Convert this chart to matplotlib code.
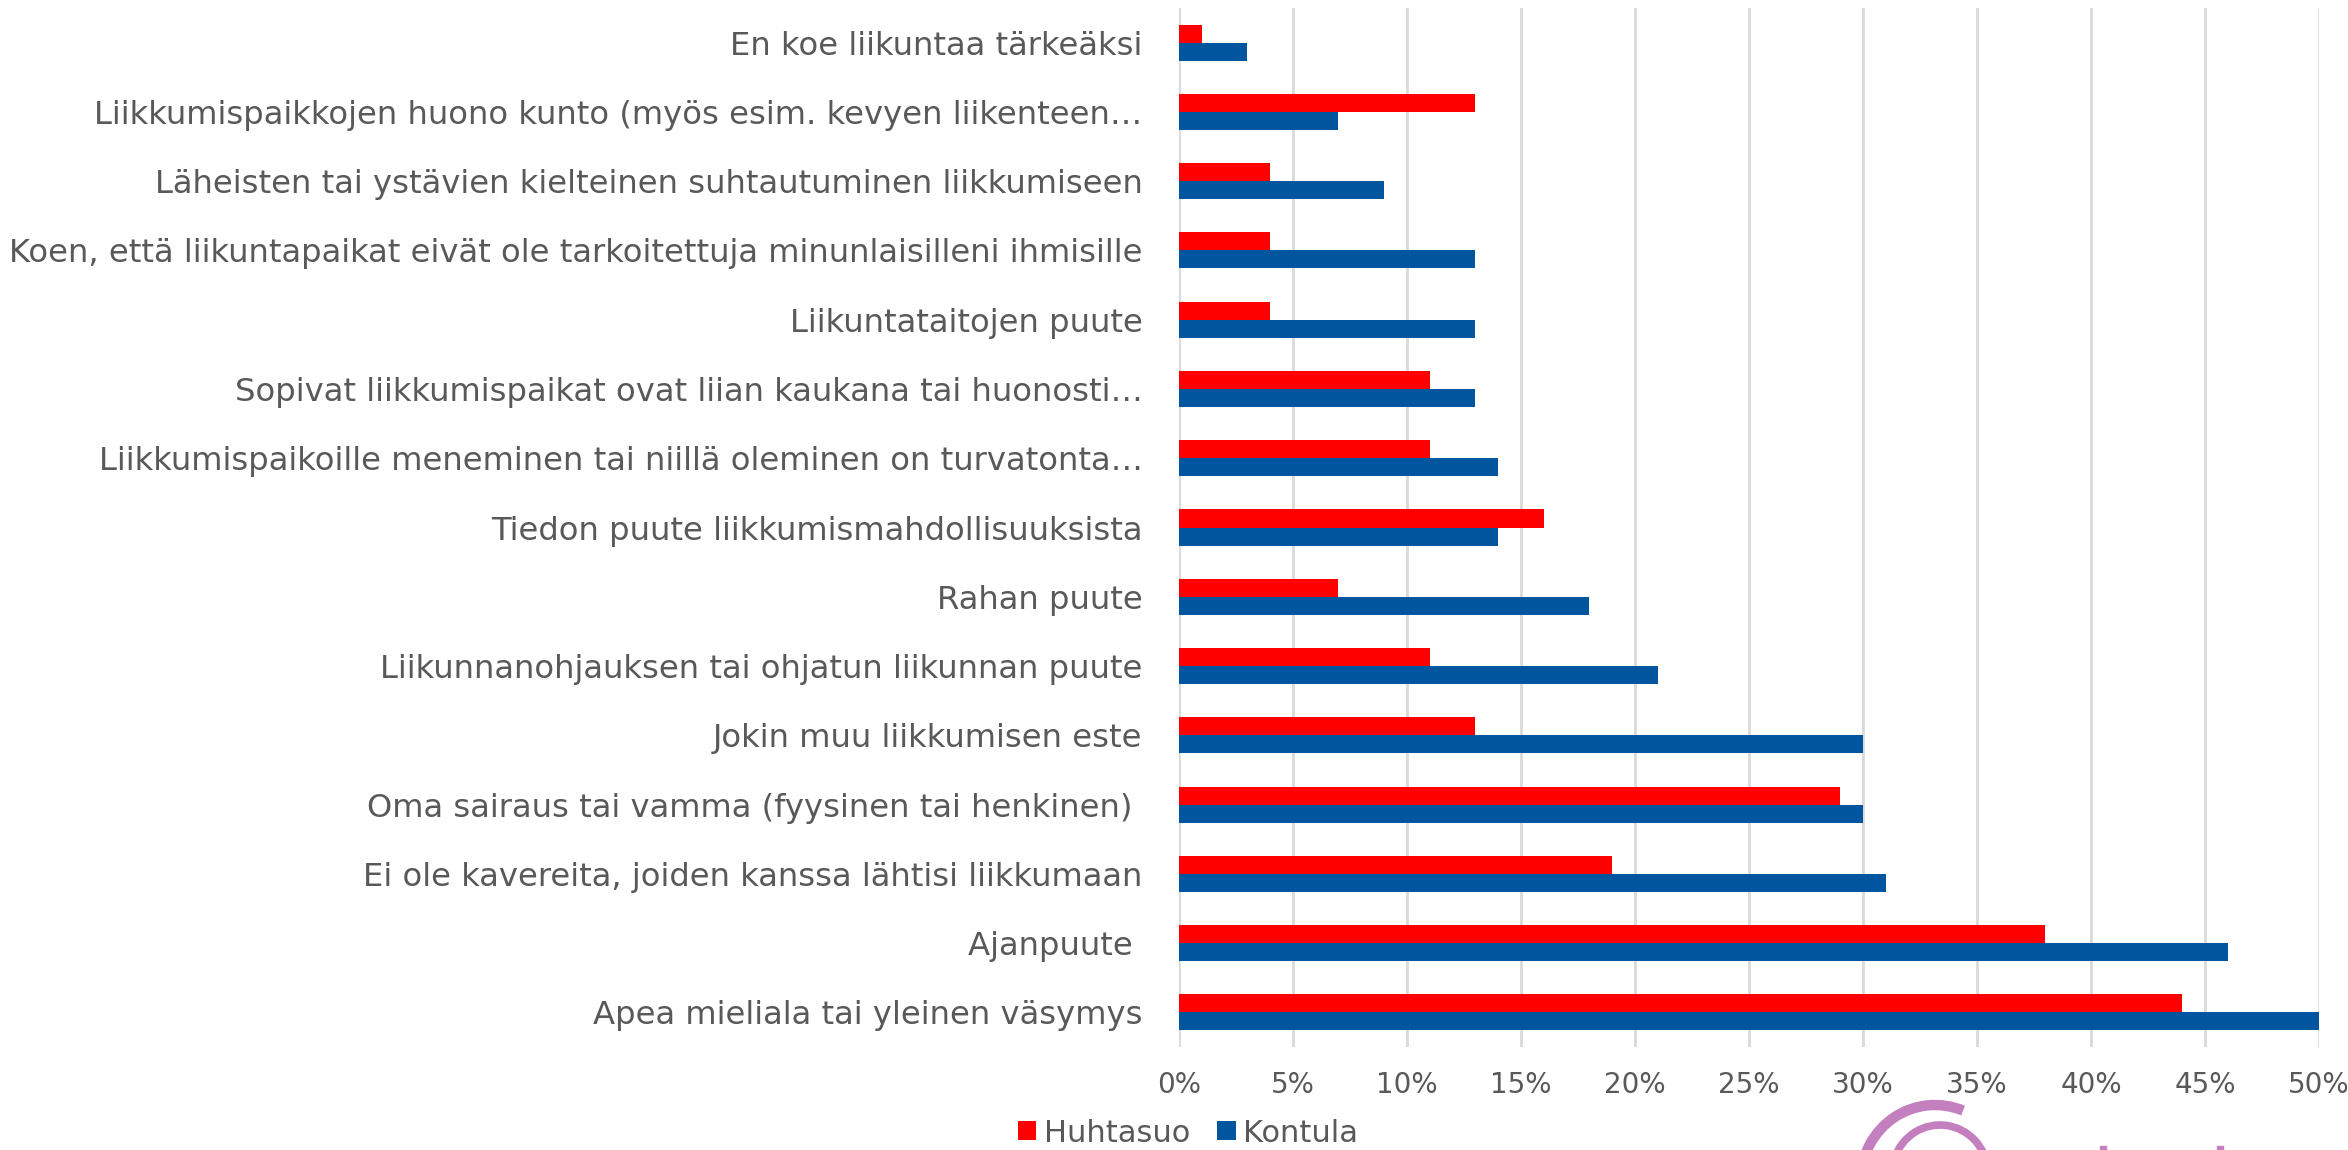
import matplotlib
matplotlib.use("Agg")
import matplotlib.pyplot as plt
import numpy as np
from matplotlib.patches import Arc, Rectangle
from matplotlib.ticker import PercentFormatter

categories = [
    "En koe liikuntaa tärkeäksi",
    "Liikkumispaikkojen huono kunto (myös esim. kevyen liikenteen…",
    "Läheisten tai ystävien kielteinen suhtautuminen liikkumiseen",
    "Koen, että liikuntapaikat eivät ole tarkoitettuja minunlaisilleni ihmisille",
    "Liikuntataitojen puute",
    "Sopivat liikkumispaikat ovat liian kaukana tai huonosti…",
    "Liikkumispaikoille meneminen tai niillä oleminen on turvatonta…",
    "Tiedon puute liikkumismahdollisuuksista",
    "Rahan puute",
    "Liikunnanohjauksen tai ohjatun liikunnan puute",
    "Jokin muu liikkumisen este",
    "Oma sairaus tai vamma (fyysinen tai henkinen) ",
    "Ei ole kavereita, joiden kanssa lähtisi liikkumaan",
    "Ajanpuute ",
    "Apea mieliala tai yleinen väsymys",
]
huhtasuo = [1, 13, 4, 4, 4, 11, 11, 16, 7, 11, 13, 29, 19, 38, 44]
kontula = [3, 7, 9, 13, 13, 13, 14, 14, 18, 21, 30, 30, 31, 46, 50]
xticks = [0, 5, 10, 15, 20, 25, 30, 35, 40, 45, 50]
series_names = ["Huhtasuo", "Kontula"]

RED = "#FF0000"
BLUE = "#00559F"
GRAY = "#595959"

plt.rcParams["font.family"] = ["DejaVu Sans"]

fig = plt.figure(figsize=(23.48, 11.5), dpi=100)
ax = fig.add_axes([0.502, 0.0896, 0.9877 - 0.502, 0.993 - 0.0896])

y = np.arange(len(categories))
h = 0.26
ax.barh(y - h / 2, huhtasuo, height=h, color=RED, label=series_names[0], zorder=3)
ax.barh(y + h / 2, kontula, height=h, color=BLUE, label=series_names[1], zorder=3)

ax.set_ylim(len(categories) - 0.5, -0.5)
ax.set_xlim(0, 50)
ax.set_yticks(y)
ax.set_yticklabels(categories, fontsize=23.2, color=GRAY)
ax.set_xticks(xticks)
ax.xaxis.set_major_formatter(PercentFormatter(decimals=0))
ax.tick_params(axis="x", labelsize=20, colors=GRAY, length=0, pad=17)
ax.tick_params(axis="y", length=0, pad=26)
ax.grid(axis="x", color="#D9D9D9", linewidth=2, zorder=0)
for s in ax.spines.values():
    s.set_visible(False)

leg = fig.legend(loc="center", bbox_to_anchor=(1188 / 2348, 1 - 1133 / 1150), ncol=2,
                 frameon=False, fontsize=22, handlelength=0.6, handleheight=0.6,
                 handletextpad=0.25, columnspacing=0.9, borderpad=0)
for t in leg.get_texts():
    t.set_color(GRAY)

# partial logo at bottom right
LOGO = "#C47FBF"
lax = fig.add_axes([0, 0, 1, 1], facecolor="none")
lax.set_xlim(0, 2348)
lax.set_ylim(1150, 0)
lax.axis("off")
lax.add_patch(Arc((1935, 1180), 148, 150, theta1=180, theta2=292, color=LOGO, lw=7.5))
lax.add_patch(Arc((1940, 1174), 96, 98, theta1=200, theta2=355, color=LOGO, lw=5.5))
lax.add_patch(Arc((1930, 1182), 124, 120, theta1=318, theta2=360, color=LOGO, lw=1.5))
lax.add_patch(Rectangle((2100, 1146), 6, 4, color=LOGO))
lax.add_patch(Rectangle((2217, 1146), 6, 4, color=LOGO))

fig.savefig("out.png", dpi=100)
